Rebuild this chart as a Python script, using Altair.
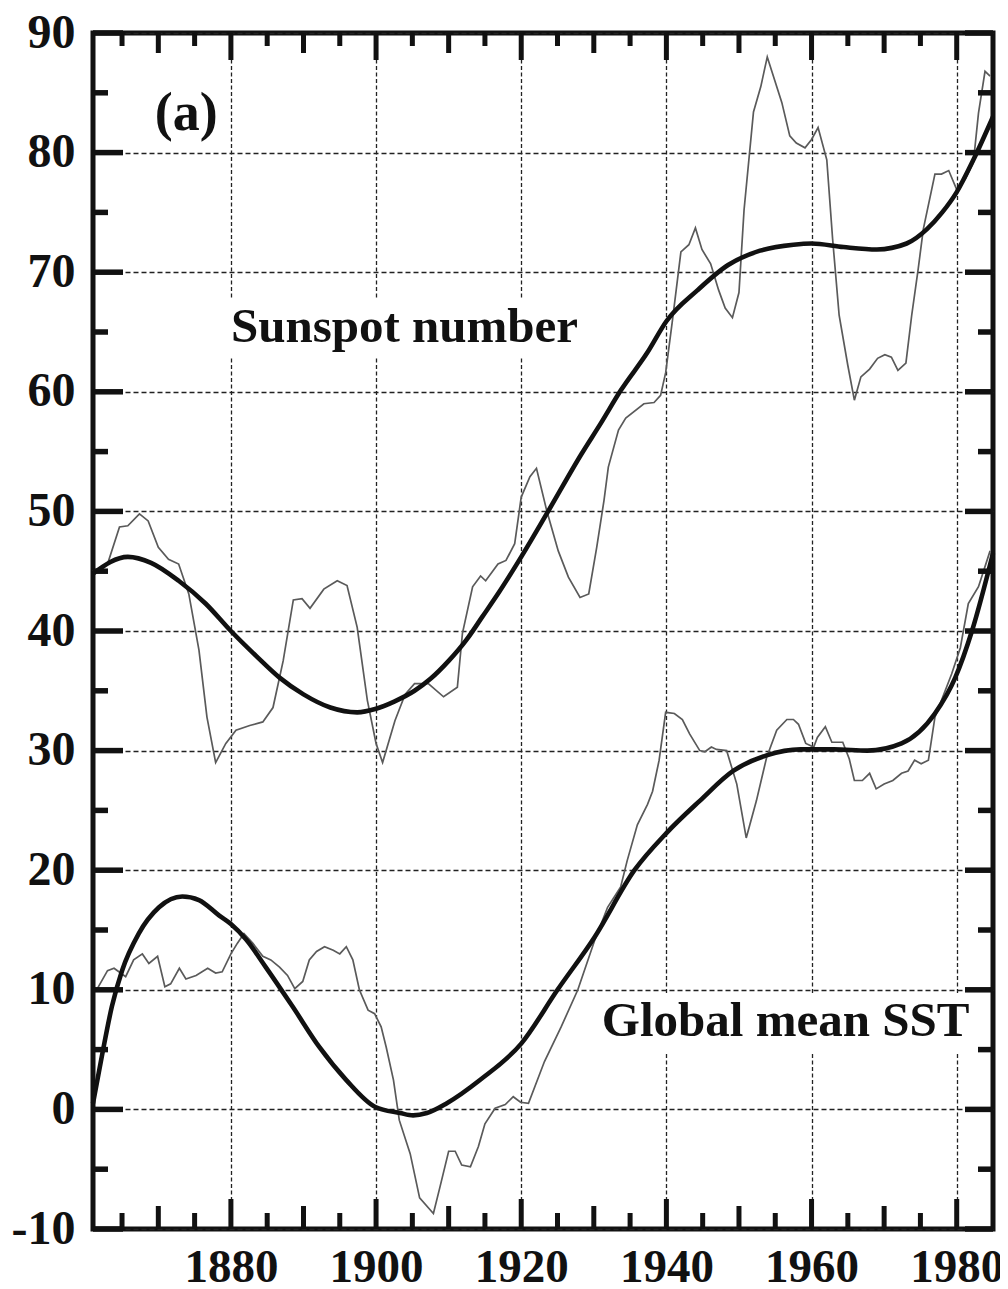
import altair as alt
import pandas as pd

# ---------------- data ----------------
sun_year = [1861.0, 1863.0, 1864.65, 1865.8, 1867.4, 1868.6, 1870.0, 1871.4, 1872.8, 1874.2,
            1875.6, 1876.7, 1877.9, 1879.3, 1880.7, 1882.6, 1884.4, 1885.8, 1887.2, 1888.6,
            1889.8, 1890.9, 1892.8, 1894.65, 1896.0, 1897.4, 1898.8, 1900.0, 1900.9, 1902.6,
            1904.0, 1905.3, 1907.2, 1909.3, 1911.2, 1911.9, 1913.3, 1914.4, 1915.1, 1916.8,
            1917.9, 1919.1, 1920.0, 1921.2, 1922.1, 1923.5, 1925.1, 1926.5, 1928.1, 1929.3,
            1930.4, 1931.4, 1932.0, 1933.4, 1934.4, 1936.9, 1938.3, 1939.2, 1939.9, 1940.8,
            1942.0, 1943.1, 1944.0, 1944.9, 1946.1, 1947.2, 1948.1, 1949.1, 1950.0, 1950.7,
            1952.0, 1953.0, 1953.9, 1954.9, 1955.9, 1957.0, 1957.9, 1959.1, 1960.0, 1960.9,
            1962.1, 1962.9, 1963.8, 1965.0, 1965.9, 1966.8, 1968.0, 1969.1, 1970.1, 1971.0,
            1971.9, 1973.0, 1973.8, 1974.7, 1975.4, 1977.0, 1977.9, 1978.9, 1980.0, 1981.2,
            1982.3, 1983.0, 1983.9, 1984.6]
sun_val = [45.0, 45.6, 48.7, 48.8, 49.8, 49.2, 47.0, 46.0, 45.6, 43.1,
           38.4, 32.8, 29.0, 30.6, 31.7, 32.1, 32.4, 33.6, 37.5, 42.6,
           42.7, 41.9, 43.5, 44.2, 43.8, 40.3, 34.2, 30.6, 29.0, 32.5,
           34.7, 35.6, 35.6, 34.5, 35.3, 39.8, 43.7, 44.6, 44.2, 45.6,
           45.9, 47.3, 51.2, 52.9, 53.6, 50.1, 46.7, 44.5, 42.8, 43.1,
           47.0, 50.9, 53.7, 56.8, 57.8, 59.0, 59.1, 59.7, 61.6, 65.8,
           71.7, 72.3, 73.7, 71.9, 70.7, 68.5, 67.0, 66.2, 68.3, 75.2,
           83.4, 85.5, 88.0, 86.1, 84.2, 81.4, 80.8, 80.4, 81.1, 82.1,
           79.4, 72.8, 66.4, 62.2, 59.3, 61.25, 61.9, 62.8, 63.1, 62.9,
           61.8, 62.4, 66.4, 70.3, 73.6, 78.2, 78.2, 78.5, 76.9, 77.8,
           79.2, 83.3, 86.8, 86.4]

sun_fit_year = [1861.0, 1865.8, 1869.0, 1872.8, 1876.5, 1880.0, 1883.5, 1886.7, 1890.0, 1893.7,
                1897.4, 1900.0, 1902.5, 1905.3, 1907.5, 1910.0, 1912.5, 1914.65, 1917.0, 1920.0,
                1923.7, 1928.3, 1931.0, 1933.7, 1937.4, 1940.0, 1944.3, 1948.5, 1952.9, 1957.5,
                1960.0, 1964.4, 1969.0, 1973.1, 1975.9, 1978.0, 1980.0, 1982.3, 1985.0]
sun_fit_val = [44.8, 46.2, 45.7, 44.2, 42.3, 40.0, 37.9, 36.1, 34.7, 33.6,
               33.2, 33.5, 34.1, 35.0, 36.0, 37.5, 39.3, 41.2, 43.3, 46.2,
               50.0, 54.8, 57.4, 60.1, 63.3, 65.9, 68.5, 70.6, 71.8, 72.3,
               72.4, 72.1, 71.9, 72.4, 73.6, 75.0, 76.7, 79.4, 83.0]

sst_year = [1861.5, 1863.0, 1863.9, 1864.8, 1865.5, 1866.6, 1867.8, 1868.7, 1869.9, 1870.9,
            1871.7, 1872.9, 1873.8, 1875.2, 1876.8, 1877.9, 1878.8, 1880.0, 1880.9, 1881.8,
            1883.0, 1884.4, 1885.5, 1886.7, 1887.8, 1888.8, 1889.9, 1890.8, 1891.8, 1892.9,
            1894.1, 1895.0, 1895.9, 1896.8, 1897.7, 1898.9, 1899.8, 1900.7, 1901.4, 1902.4,
            1903.2, 1904.7, 1906.0, 1907.9, 1908.8, 1910.0, 1910.9, 1911.8, 1913.0, 1914.1,
            1915.0, 1916.4, 1917.8, 1918.9, 1919.9, 1921.0, 1923.2, 1925.5, 1927.8, 1930.1,
            1931.9, 1933.7, 1934.6, 1936.0, 1937.4, 1938.1, 1939.0, 1939.9, 1941.1, 1942.2,
            1943.2, 1944.6, 1945.3, 1946.2, 1946.9, 1948.3, 1949.7, 1951.0, 1952.4, 1953.8,
            1955.2, 1956.6, 1957.5, 1958.2, 1959.2, 1960.3, 1960.8, 1961.9, 1962.8, 1964.3,
            1965.2, 1965.9, 1967.0, 1968.0, 1968.9, 1970.0, 1971.2, 1972.4, 1973.3, 1974.2,
            1975.1, 1976.1, 1977.0, 1979.3, 1980.5, 1981.6, 1983.0, 1984.6]
sst_val = [10.0, 11.6, 11.8, 11.4, 11.1, 12.5, 13.0, 12.2, 12.8, 10.25,
           10.5, 11.8, 10.9, 11.2, 11.8, 11.4, 11.5, 13.0, 13.9, 14.7,
           13.9, 12.8, 12.5, 11.9, 11.2, 10.1, 10.7, 12.5, 13.2, 13.6,
           13.3, 13.0, 13.6, 12.5, 10.0, 8.3, 8.0, 6.9, 5.2, 2.45,
           -0.9, -3.7, -7.4, -8.7, -6.5, -3.5, -3.5, -4.65, -4.8, -3.1,
           -1.2, 0.1, 0.4, 1.06, 0.6, 0.5, 4.0, 6.9, 10.0, 14.1,
           16.9, 18.6, 20.8, 23.8, 25.5, 26.6, 29.2, 33.2, 33.1, 32.6,
           31.4, 30.0, 29.9, 30.3, 30.1, 30.0, 27.2, 22.7, 25.8, 29.4,
           31.7, 32.6, 32.6, 32.2, 30.6, 30.3, 31.1, 32.0, 30.7, 30.7,
           29.3, 27.5, 27.5, 28.1, 26.8, 27.2, 27.5, 28.1, 28.3, 29.2,
           28.9, 29.2, 32.8, 36.4, 38.6, 42.3, 43.7, 46.7]

sst_fit_year = [1861.0, 1862.3, 1863.6, 1865.0, 1867.3, 1870.1, 1873.3, 1875.6, 1878.4, 1880.0,
                1882.1, 1884.8, 1888.5, 1892.2, 1895.9, 1899.9, 1903.3, 1905.1, 1907.0, 1909.7,
                1914.4, 1920.0, 1925.0, 1930.1, 1935.6, 1940.0, 1944.6, 1949.2, 1953.8, 1958.5,
                1963.1, 1967.7, 1972.4, 1977.0, 1979.8, 1982.1, 1985.0]
sst_fit_val = [0.5, 4.7, 8.6, 11.6, 14.7, 16.9, 17.8, 17.5, 16.2, 15.5,
               14.2, 11.9, 8.6, 5.2, 2.45, 0.2, -0.3, -0.5, -0.3, 0.5,
               2.5, 5.5, 10.0, 14.4, 20.0, 23.1, 25.8, 28.3, 29.6, 30.1,
               30.1, 30.0, 30.6, 33.1, 36.1, 40.0, 46.5]

x_label_ticks = [1880, 1900, 1920, 1940, 1960, 1980]
x_mid_ticks = [1870, 1890, 1910, 1930, 1950, 1970]
x_minor_ticks = [1865, 1875, 1885, 1895, 1905, 1915, 1925, 1935, 1945, 1955, 1965, 1975]
y_label_ticks = [-10, 0, 10, 20, 30, 40, 50, 60, 70, 80, 90]
y_minor_ticks = [-5, 5, 15, 25, 35, 45, 55, 65, 75, 85]

ann_text = ["(a)", "Sunspot number", "Global mean SST"]
ann_year = [1869.5, 1880.0, 1931.1]
ann_value = [81.9, 64.2, 6.1]
ann_size = [54, 49, 49]

# ---------------- chart ----------------
W, H = 900, 1196
FONT = "Liberation Serif"
INK = "#111111"

xs = alt.Scale(domain=[1861, 1985], nice=False, zero=False)
ys = alt.Scale(domain=[-10, 90], nice=False, zero=False)

x_axis = alt.Axis(values=x_label_ticks, title=None, ticks=False, tickSize=0, domain=False,
                  grid=True, gridDash=[4, 2.5], gridColor="#222222", gridWidth=1.3,
                  labelFont=FONT, labelFontSize=47, labelFontWeight="bold", labelColor=INK,
                  labelPadding=15, labelExpr="'' + datum.value", labelFlush=False)
y_axis = alt.Axis(values=y_label_ticks, title=None, ticks=False, tickSize=0, domain=False,
                  grid=True, gridDash=[5, 3], gridColor="#222222", gridWidth=1.3,
                  labelFont=FONT, labelFontSize=48, labelFontWeight="bold", labelColor=INK,
                  labelPadding=18, labelExpr="'' + datum.value", labelFlush=False,
                  labelBaseline="middle")

lines = pd.concat([
    pd.DataFrame({"year": sun_year, "value": sun_val, "series": "sun", "kind": "thin"}),
    pd.DataFrame({"year": sst_year, "value": sst_val, "series": "sst", "kind": "thin"}),
])
fits = pd.concat([
    pd.DataFrame({"year": sun_fit_year, "value": sun_fit_val, "series": "sun", "kind": "fit"}),
    pd.DataFrame({"year": sst_fit_year, "value": sst_fit_val, "series": "sst", "kind": "fit"}),
])

thin = alt.Chart(lines).mark_line(color="#5a5a5a", strokeWidth=1.7).encode(
    x=alt.X("year:Q", scale=xs, axis=x_axis),
    y=alt.Y("value:Q", scale=ys, axis=y_axis),
    detail="series:N",
)
thick = alt.Chart(fits).mark_line(color=INK, strokeWidth=4.6, interpolate="monotone").encode(
    x=alt.X("year:Q", scale=xs, axis=x_axis),
    y=alt.Y("value:Q", scale=ys, axis=y_axis),
    detail="series:N",
)

one = pd.DataFrame({"k": [0]})
box1 = alt.Chart(one).mark_rect(color="white").encode(
    x=alt.value(131), x2=alt.value(497), y=alt.value(265), y2=alt.value(324))
box2 = alt.Chart(one).mark_rect(color="white").encode(
    x=alt.value(503), x2=alt.value(889), y=alt.value(960), y2=alt.value(1019))

ann = pd.DataFrame({"t": ann_text, "year": ann_year, "value": ann_value, "size": ann_size})
texts = alt.Chart(ann).mark_text(font=FONT, fontWeight="bold", color=INK, align="left",
                                 baseline="alphabetic").encode(
    x=alt.X("year:Q", scale=xs, axis=x_axis),
    y=alt.Y("value:Q", scale=ys, axis=y_axis),
    text="t:N",
    size=alt.Size("size:Q", scale=None, legend=None),
)

def xt(vals, top_len, bot_len):
    d = pd.DataFrame({"t": vals})
    base = alt.Chart(d).mark_rule(color=INK, strokeWidth=5, strokeCap="butt")
    bot = base.encode(x=alt.X("t:Q", scale=xs, axis=x_axis), y=alt.value(H), y2=alt.value(H - bot_len))
    top = base.encode(x=alt.X("t:Q", scale=xs, axis=x_axis), y=alt.value(0), y2=alt.value(top_len))
    return [bot, top]

def yt(vals, left_len, right_len):
    d = pd.DataFrame({"v": vals})
    base = alt.Chart(d).mark_rule(color=INK, strokeWidth=5.5, strokeCap="butt")
    left = base.encode(y=alt.Y("v:Q", scale=ys, axis=y_axis), x=alt.value(0), x2=alt.value(left_len))
    right = base.encode(y=alt.Y("v:Q", scale=ys, axis=y_axis), x=alt.value(W - right_len), x2=alt.value(W))
    return [left, right]

tick_layers = (xt(x_label_ticks, 27, 30) + xt(x_mid_ticks, 20, 23) + xt(x_minor_ticks, 13, 16)
               + yt(y_label_ticks, 30, 28) + yt(y_minor_ticks, 15, 15))

chart = alt.layer(box1, box2, thin, thick, texts, *tick_layers).properties(
    width=W, height=H,
    background="white",
    autosize=alt.AutoSizeParams(type="none"),
    padding={"left": 85, "top": 25, "right": 7, "bottom": 60},
).configure_view(stroke=INK, strokeWidth=5)

chart.save("out.html", embed_options={"renderer": "svg", "actions": False})
